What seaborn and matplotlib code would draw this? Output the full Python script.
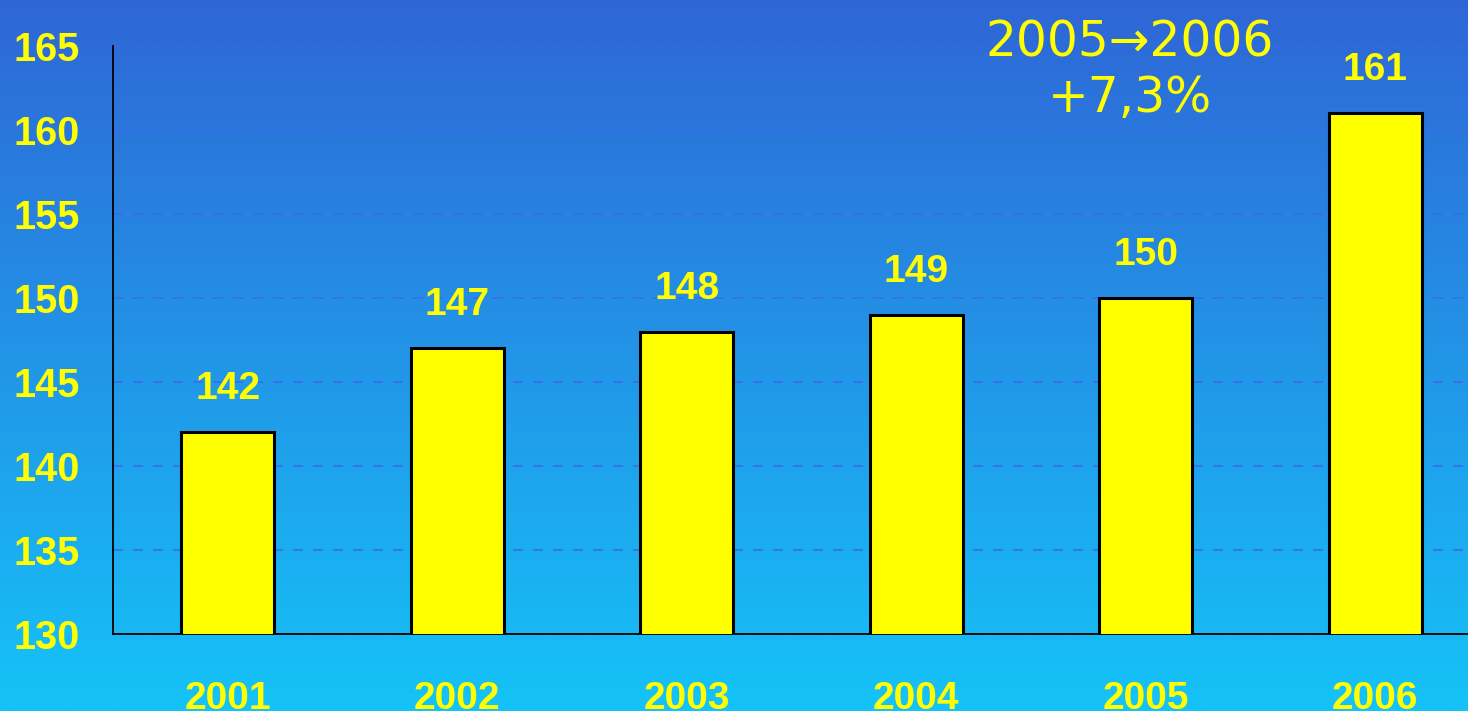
import numpy as np
import pandas as pd
import matplotlib
matplotlib.use('Agg')
import matplotlib.pyplot as plt
from matplotlib.colors import LinearSegmentedColormap
import seaborn as sns

# data
years = ['2001', '2002', '2003', '2004', '2005', '2006']
values = [142, 147, 148, 149, 150, 161]
y_ticks = [130, 135, 140, 145, 150, 155, 160, 165]
note = '2005\u21922006\n+7,3%'

df = pd.DataFrame({'Year': years, 'Value': values})

sns.set_style('white')
plt.rcParams['font.family'] = ['Liberation Sans', 'DejaVu Sans']

yellow = '#FFFF00'

fig = plt.figure(figsize=(14.68, 7.11), dpi=100)

# gradient background
bg = fig.add_axes([0, 0, 1, 1], zorder=-10)
grad = np.linspace(0, 1, 256).reshape(-1, 1)
cmap = LinearSegmentedColormap.from_list('bg', ['#2F66D6', '#15C3F8'])
bg.imshow(grad, aspect='auto', cmap=cmap, extent=[0, 1, 0, 1])
bg.axis('off')

# axes extends a bit past the right edge, like the cropped original
ax = fig.add_axes([113 / 1468, 77 / 711, 1377 / 1468, 588 / 711])
ax.set_facecolor('none')

sns.barplot(data=df, x='Year', y='Value', color=yellow, width=0.405,
            edgecolor='black', linewidth=2.2, saturation=1, ax=ax, zorder=3)

ax.set_ylim(130, 165)
ax.set_xlim(-0.5, len(years) - 0.5)
ax.set_yticks(y_ticks)
ax.yaxis.grid(True, linestyle=(0, (6, 6)), color='#3A6CF0', linewidth=1.2, zorder=0)
ax.xaxis.grid(False)

for s in ['top', 'right']:
    ax.spines[s].set_visible(False)
for s in ['left', 'bottom']:
    ax.spines[s].set_color('black')
    ax.spines[s].set_linewidth(1.3)

ax.set_xlabel('')
ax.set_ylabel('')

ax.tick_params(axis='y', colors='black', length=9, width=1.3, direction='out',
               pad=15, labelsize=28.5, labelcolor=yellow)
for lab in ax.get_yticklabels():
    lab.set_fontweight('bold')

# category labels at centres, tick marks at the boundaries
ax.tick_params(axis='x', which='major', length=0, pad=34, labelsize=28, labelcolor=yellow)
for lab in ax.get_xticklabels():
    lab.set_fontweight('bold')
ax.set_xticks(np.arange(len(years)) - 0.5, minor=True)
ax.tick_params(axis='x', which='minor', length=10, width=1.3, color='black', direction='out')

for c in ax.containers:
    ax.bar_label(c, labels=[str(v) for v in values], padding=18, color=yellow,
                 fontsize=28, fontweight='bold')

ax.text(3.93, 163.55, note, ha='center', va='center', color=yellow, fontsize=35,
        family=['DejaVu Sans'], linespacing=1.2, transform=ax.transData)

fig.savefig('out.png', dpi=100)
